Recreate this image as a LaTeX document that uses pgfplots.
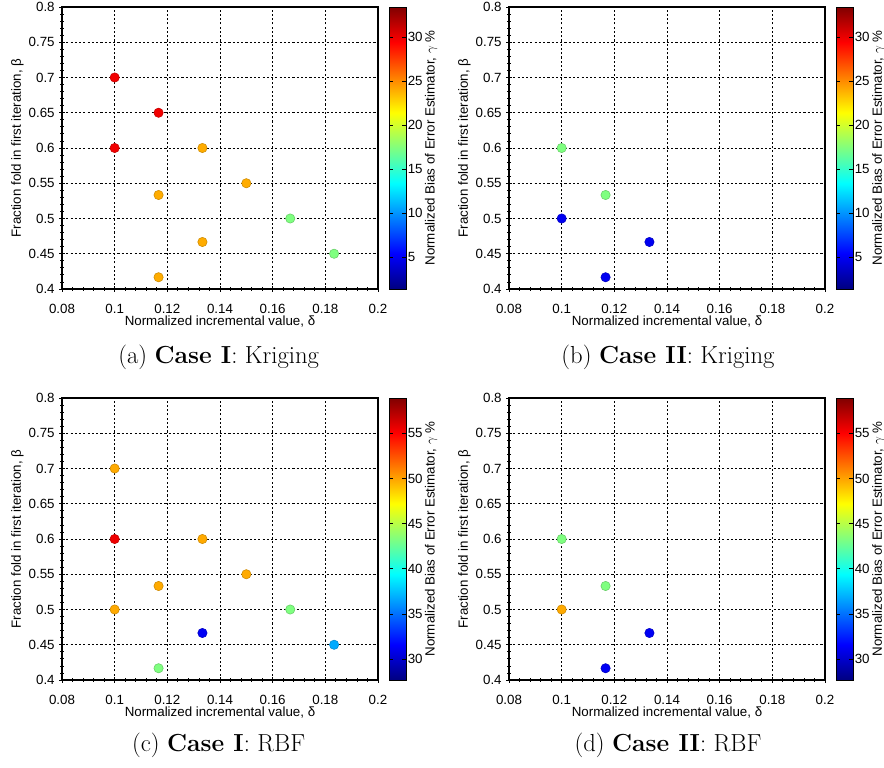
\documentclass[border=0pt]{standalone}
\usepackage{fontspec}
\newfontfamily\plotfont{Liberation Sans}
\usepackage{pgfplots}
\pgfplotsset{compat=1.18}
\pgfplotsset{
  panel/.style={
    width=237pt, height=211.5pt, scale only axis,
    xmin=0.08, xmax=0.2, ymin=0.4, ymax=0.8,
    xtick={0.08,0.1,0.12,0.14,0.16,0.18,0.2},
    xticklabels={0.08,0.1,0.12,0.14,0.16,0.18,0.2},
    ytick={0.4,0.45,0.5,0.55,0.6,0.65,0.7,0.75,0.8},
    yticklabels={0.4,0.45,0.5,0.55,0.6,0.65,0.7,0.75,0.8},
    minor x tick num=4, minor y tick num=4,
    tick pos=left, tick align=center,
    major tick length=4pt, minor tick length=2.5pt,
    tick style={black, line width=0.6pt},
    axis line style={black, line width=0.9pt},
    grid=major,
    major grid style={black, line width=0.65pt, dash pattern=on 1.6pt off 1.6pt},
    ticklabel style={font=\plotfont\fontsize{10}{11}\selectfont},
    /pgf/number format/assume math mode=true,
    xlabel={Normalized incremental value, δ},
    ylabel={Fraction fold in first iteration, β},
    label style={font=\plotfont\fontsize{10}{11}\selectfont},
    xlabel style={yshift=5.5pt},
    ylabel style={yshift=-3pt},
    xticklabel style={yshift=-6pt},
    colormap/jet,
    colorbar,
    colorbar style={
      at={(parent axis.north east)}, anchor=north west,
      width=12.75pt,
      /pgf/number format/assume math mode=true,
      axis line style={black, line width=0.6pt},
      tick style={black, line width=0.5pt},
      major tick length=3pt,
      tick align=inside,
      yticklabel style={font=\plotfont\fontsize{10}{11}\selectfont, xshift=-2.5pt},
      ylabel={Normalized Bias of Error Estimator, $\gamma$ \%},
      ylabel style={font=\plotfont\fontsize{10}{11}\selectfont, yshift=5pt},
    },
  },
  pts/.style={scatter, only marks, mark=*, mark size=3.5pt, point meta=explicit},
}
\begin{document}
\begin{tikzpicture}
\path[use as bounding box] (0,0) rectangle (663pt,575.25pt);
% (a)
\begin{axis}[panel, at={(46.5pt,358.5pt)}, anchor=south west,
  point meta min=1.4, point meta max=33.4,
  colorbar style={ytick={5,10,15,20,25,30}}]
\addplot[pts] table[meta=c] {
x y c
0.1 0.7 29.8
0.11667 0.65 29.8
0.1 0.6 29.8
0.13333 0.6 24.0
0.15 0.55 24.0
0.11667 0.53333 24.0
0.16667 0.5 17.4
0.13333 0.46667 24.0
0.18333 0.45 17.4
0.11667 0.41667 24.0
};
\end{axis}
% (b)
\begin{axis}[panel, at={(381.75pt,358.5pt)}, anchor=south west,
  point meta min=1.4, point meta max=33.4,
  colorbar style={ytick={5,10,15,20,25,30}}]
\addplot[pts] table[meta=c] {
x y c
0.1 0.6 17.4
0.11667 0.53333 17.4
0.1 0.5 5.0
0.13333 0.46667 5.0
0.11667 0.41667 5.0
};
\end{axis}
% (c)
\begin{axis}[panel, at={(46.5pt,65.25pt)}, anchor=south west,
  point meta min=27.7, point meta max=58.9,
  colorbar style={ytick={30,35,40,45,50,55}}]
\addplot[pts] table[meta=c] {
x y c
0.1 0.7 49.8
0.1 0.6 55.5
0.13333 0.6 49.8
0.15 0.55 49.8
0.11667 0.53333 49.8
0.1 0.5 49.8
0.16667 0.5 43.3
0.13333 0.46667 31.3
0.18333 0.45 36.8
0.11667 0.41667 43.3
};
\end{axis}
% (d)
\begin{axis}[panel, at={(381.75pt,65.25pt)}, anchor=south west,
  point meta min=27.7, point meta max=58.9,
  colorbar style={ytick={30,35,40,45,50,55}}]
\addplot[pts] table[meta=c] {
x y c
0.1 0.6 43.3
0.11667 0.53333 43.3
0.1 0.5 49.8
0.13333 0.46667 31.3
0.11667 0.41667 31.3
};
\end{axis}
\node[font=\fontsize{18.5}{21}\selectfont] at (164pt,307.5pt) {(a) \textbf{Case I}: Kriging};
\node[font=\fontsize{18.5}{21}\selectfont] at (501pt,307.5pt) {(b) \textbf{Case II}: Kriging};
\node[font=\fontsize{18.5}{21}\selectfont] at (164pt,16.5pt) {(c) \textbf{Case I}: RBF};
\node[font=\fontsize{18.5}{21}\selectfont] at (501pt,16.5pt) {(d) \textbf{Case II}: RBF};
\end{tikzpicture}
\end{document}
